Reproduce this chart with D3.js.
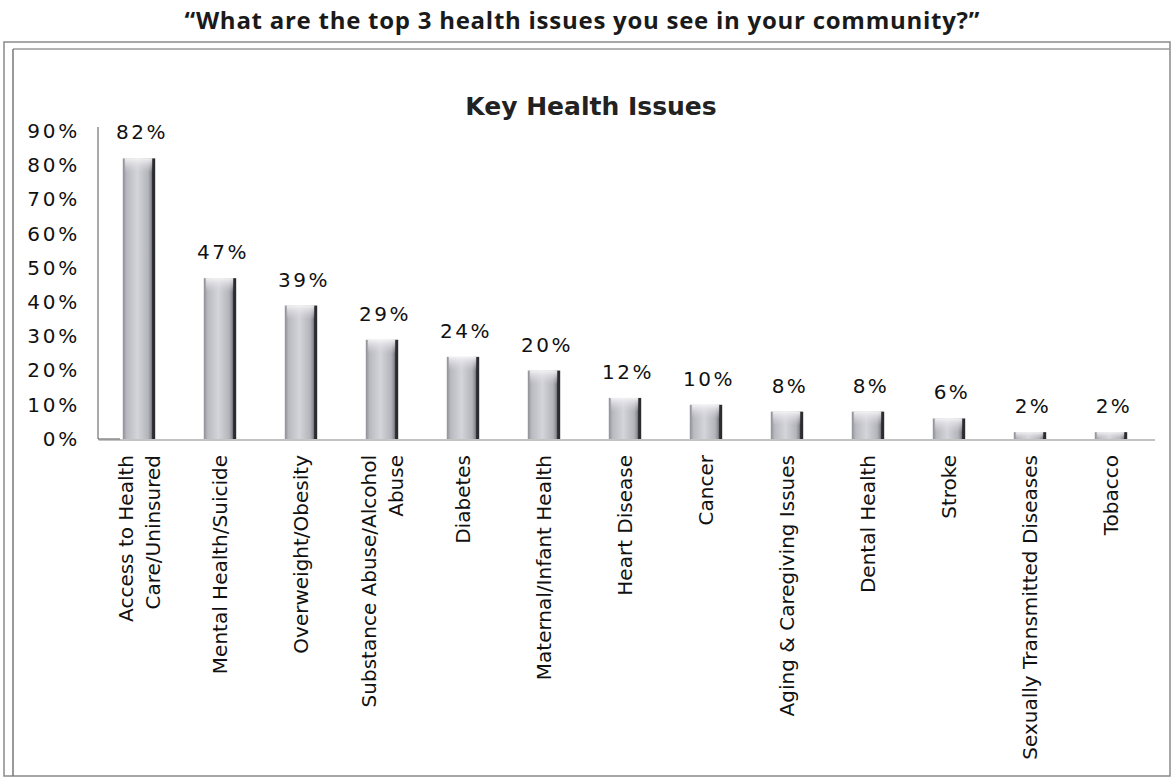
<!DOCTYPE html>
<html>
<head>
<meta charset="utf-8">
<script src="https://cdn.jsdelivr.net/npm/d3@7"></script>
<style>
  html, body { margin: 0; padding: 0; background: #fff; }
  svg { display: block; }
</style>
</head>
<body>
<svg id="chart" width="1173" height="778"></svg>
<script>
// Survey responses: share of respondents naming each issue among their top 3
const categories = [
  "Access to Health Care/Uninsured",
  "Mental Health/Suicide",
  "Overweight/Obesity",
  "Substance Abuse/Alcohol Abuse",
  "Diabetes",
  "Maternal/Infant Health",
  "Heart Disease",
  "Cancer",
  "Aging & Caregiving Issues",
  "Dental Health",
  "Stroke",
  "Sexually Transmitted Diseases",
  "Tobacco"
];
// Category labels split over lines as printed under the axis
const categoryLines = [
  ["Access to Health", "Care/Uninsured"],
  ["Mental Health/Suicide"],
  ["Overweight/Obesity"],
  ["Substance Abuse/Alcohol", "Abuse"],
  ["Diabetes"],
  ["Maternal/Infant Health"],
  ["Heart Disease"],
  ["Cancer"],
  ["Aging & Caregiving Issues"],
  ["Dental Health"],
  ["Stroke"],
  ["Sexually Transmitted Diseases"],
  ["Tobacco"]
];
const values = [82, 47, 39, 29, 24, 20, 12, 10, 8, 8, 6, 2, 2];
const yTicks = [0, 10, 20, 30, 40, 50, 60, 70, 80, 90];

const svg = d3.select("#chart");
const bodyFont = "'DejaVu Sans', sans-serif";

// Question heading above the framed chart
svg.append("text")
  .attr("x", 582).attr("y", 29)
  .attr("text-anchor", "middle")
  .attr("textLength", 795)
  .attr("lengthAdjust", "spacing")
  .style("font-family", "'Open Sans', sans-serif")
  .style("font-weight", "700")
  .style("font-size", "24px")
  .attr("fill", "#1a1a1a")
  .text("\u201CWhat are the top 3 health issues you see in your community?\u201D");

// Chart frame (double rule on top and left)
const frame = svg.append("g").attr("fill", "none");
frame.append("rect")
  .attr("x", 4).attr("y", 42).attr("width", 1166).attr("height", 734)
  .attr("stroke", "#8a8a8a").attr("stroke-width", 1.5);
frame.append("line")
  .attr("x1", 13).attr("x2", 1170).attr("y1", 49).attr("y2", 49)
  .attr("stroke", "#9a9a9a").attr("stroke-width", 1.5);
frame.append("line")
  .attr("x1", 13).attr("x2", 13).attr("y1", 49).attr("y2", 776)
  .attr("stroke", "#777").attr("stroke-width", 1.5);

// Chart title
svg.append("text")
  .attr("x", 591).attr("y", 115)
  .attr("text-anchor", "middle")
  .style("font-family", bodyFont)
  .style("font-weight", "700")
  .style("font-size", "25px")
  .attr("fill", "#222")
  .text("Key Health Issues");

const x = d3.scaleBand()
  .domain(categories)
  .range([98.5, 1151.5])
  .paddingInner(0.6)
  .paddingOuter(0.3);

const y = d3.scaleLinear()
  .domain([0, 90])
  .range([439, 131]);

// Bar shading
const defs = svg.append("defs");
const grad = defs.append("linearGradient")
  .attr("id", "barShade").attr("x1", "0").attr("x2", "1").attr("y1", "0").attr("y2", "0");
[["0%", "#8e8e96"], ["12%", "#b9b9c0"], ["45%", "#d4d4da"], ["78%", "#b4b4bb"], ["88%", "#8a8a92"], ["92%", "#2c2c30"], ["100%", "#2c2c30"]]
  .forEach(([o, c]) => grad.append("stop").attr("offset", o).attr("stop-color", c));
const cap = defs.append("linearGradient")
  .attr("id", "capShade").attr("x1", "0").attr("x2", "0").attr("y1", "0").attr("y2", "1");
[["0%", "#f4f4f6", 0.95], ["100%", "#d4d4da", 0]]
  .forEach(([o, c, op]) => cap.append("stop").attr("offset", o).attr("stop-color", c).attr("stop-opacity", op));

// Y axis
const yAxis = d3.axisLeft(y)
  .tickValues(yTicks)
  .tickFormat(d => d + "%")
  .tickSize(0)
  .tickPadding(18);
const gy = svg.append("g")
  .attr("transform", "translate(98,0)")
  .call(yAxis);
gy.select(".domain").attr("stroke", "#555").attr("stroke-width", 1)
  .attr("d", "M0,127V439H22");
gy.selectAll("text")
  .style("font-family", bodyFont)
  .style("font-size", "20px")
  .style("letter-spacing", "2.8px")
  .attr("fill", "#111");

// X axis baseline and category labels
const xAxis = d3.axisBottom(x).tickSize(0).tickFormat("");
const gx = svg.append("g")
  .attr("transform", "translate(0,440)")
  .call(xAxis);
gx.select(".domain").attr("stroke", "#888").attr("stroke-width", 1.2)
  .attr("d", "M98.5,0H1155");

const lineH = 27;
const labels = svg.append("g").selectAll("text")
  .data(categories)
  .join("text")
  .attr("text-anchor", "end")
  .style("font-family", bodyFont)
  .style("font-size", "20px")
  .attr("fill", "#111")
  .attr("transform", (d, i) => {
    const n = categoryLines[i].length;
    const cx = x(d) + x.bandwidth() / 2 - (n - 1) * lineH / 2 + 7;
    return `translate(${cx},455) rotate(-90)`;
  });
labels.selectAll("tspan")
  .data((d, i) => categoryLines[i])
  .join("tspan")
  .attr("x", 0)
  .attr("dy", (d, j) => j === 0 ? 0 : lineH)
  .text(d => d);

// Bars
const bars = svg.append("g").selectAll("g")
  .data(categories)
  .join("g");
bars.append("rect")
  .attr("x", d => x(d))
  .attr("y", (d, i) => y(values[i]))
  .attr("width", x.bandwidth())
  .attr("height", (d, i) => y(0) - y(values[i]))
  .attr("fill", "url(#barShade)");
bars.append("rect")
  .attr("x", d => x(d) + 2)
  .attr("y", (d, i) => y(values[i]))
  .attr("width", x.bandwidth() - 5)
  .attr("height", (d, i) => Math.min(14, y(0) - y(values[i])))
  .attr("fill", "url(#capShade)");

// Value labels
svg.append("g").selectAll("text")
  .data(categories)
  .join("text")
  .attr("x", d => x(d) + x.bandwidth() / 2 + 3)
  .attr("y", (d, i) => y(values[i]) - 19)
  .attr("text-anchor", "middle")
  .style("font-family", bodyFont)
  .style("font-size", "20px")
  .style("letter-spacing", "2.5px")
  .attr("fill", "#111")
  .text((d, i) => values[i] + "%");
</script>
</body>
</html>
